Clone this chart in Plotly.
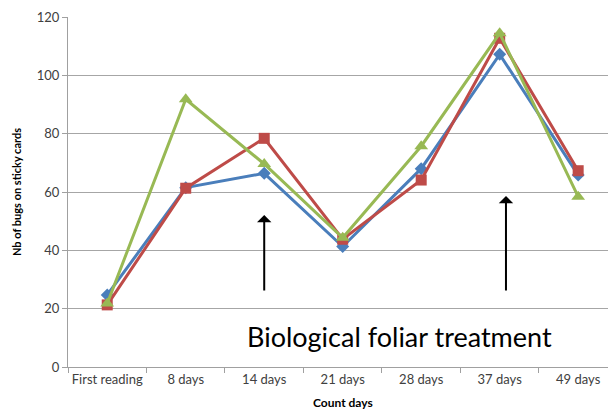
import plotly.graph_objects as go

categories = ["First reading", "8 days", "14 days", "21 days", "28 days", "37 days", "49 days"]
series_blue = [24.7, 61.5, 66.4, 41.3, 68.0, 107.2, 65.8]
series_red = [21.3, 61.3, 78.4, 43.8, 64.1, 112.7, 67.3]
series_green = [21.8, 91.8, 69.6, 44.3, 75.7, 114.4, 58.4]
y_ticks = [0, 20, 40, 60, 80, 100, 120]

FONT = "Lato"

fig = go.Figure()
fig.add_trace(go.Scatter(x=categories, y=series_blue, mode="lines+markers",
                         line=dict(color="#4A7EBB", width=3),
                         marker=dict(symbol="diamond", size=10, color="#4A7EBB")))
fig.add_trace(go.Scatter(x=categories, y=series_red, mode="lines+markers",
                         line=dict(color="#BE4B48", width=3),
                         marker=dict(symbol="square", size=11, color="#BE4B48")))
fig.add_trace(go.Scatter(x=categories, y=series_green, mode="lines+markers",
                         line=dict(color="#98B954", width=3),
                         marker=dict(symbol="triangle-up", size=12, color="#98B954")))

# treatment arrows
for xc, y0, y1 in [(2, 25.7, 52.1), (5.08, 25.7, 58.6)]:
    fig.add_annotation(x=xc, y=y1, ax=xc, ay=y0, xref="x", yref="y", axref="x", ayref="y",
                       showarrow=True, arrowhead=1, arrowsize=1.2, arrowwidth=2, arrowcolor="black", text="")

fig.add_annotation(x=3.72, y=10.3, xref="x", yref="y", text="Biological foliar treatment",
                   showarrow=False, font=dict(family=FONT, size=27, color="black"))
fig.add_annotation(x=3, y=0, xref="x", yref="paper", yshift=-35, text="<b>Count days</b>",
                   showarrow=False, font=dict(family=FONT, size=12, color="black"), yanchor="middle")

fig.update_layout(
    width=608, height=410,
    margin=dict(l=68, r=0, t=17, b=43),
    paper_bgcolor="white", plot_bgcolor="white",
    showlegend=False,
    font=dict(family=FONT, size=13, color="#404040"),
    xaxis=dict(type="category", range=[-0.5, 6.38], showline=True, linecolor="#A0A0A0", linewidth=1,
               ticks="outside", tickson="boundaries", ticklen=5, tickcolor="#A0A0A0",
               tickangle=0, automargin=False,
               showgrid=False, tickfont=dict(family=FONT, size=13, color="#404040")),
    yaxis=dict(range=[0, 120], tickvals=y_ticks, showline=True, linecolor="#A0A0A0", linewidth=1,
               ticks="outside", ticklen=5, tickcolor="#A0A0A0", automargin=False,
               showgrid=True, gridcolor="#A6A6A6", gridwidth=1, zeroline=False,
               tickfont=dict(family=FONT, size=13, color="#404040"),
               title=dict(text="<b>Nb of bugs on sticky cards</b>", font=dict(family=FONT, size=11, color="black"), standoff=12)),
)

fig.write_html("out.html")
